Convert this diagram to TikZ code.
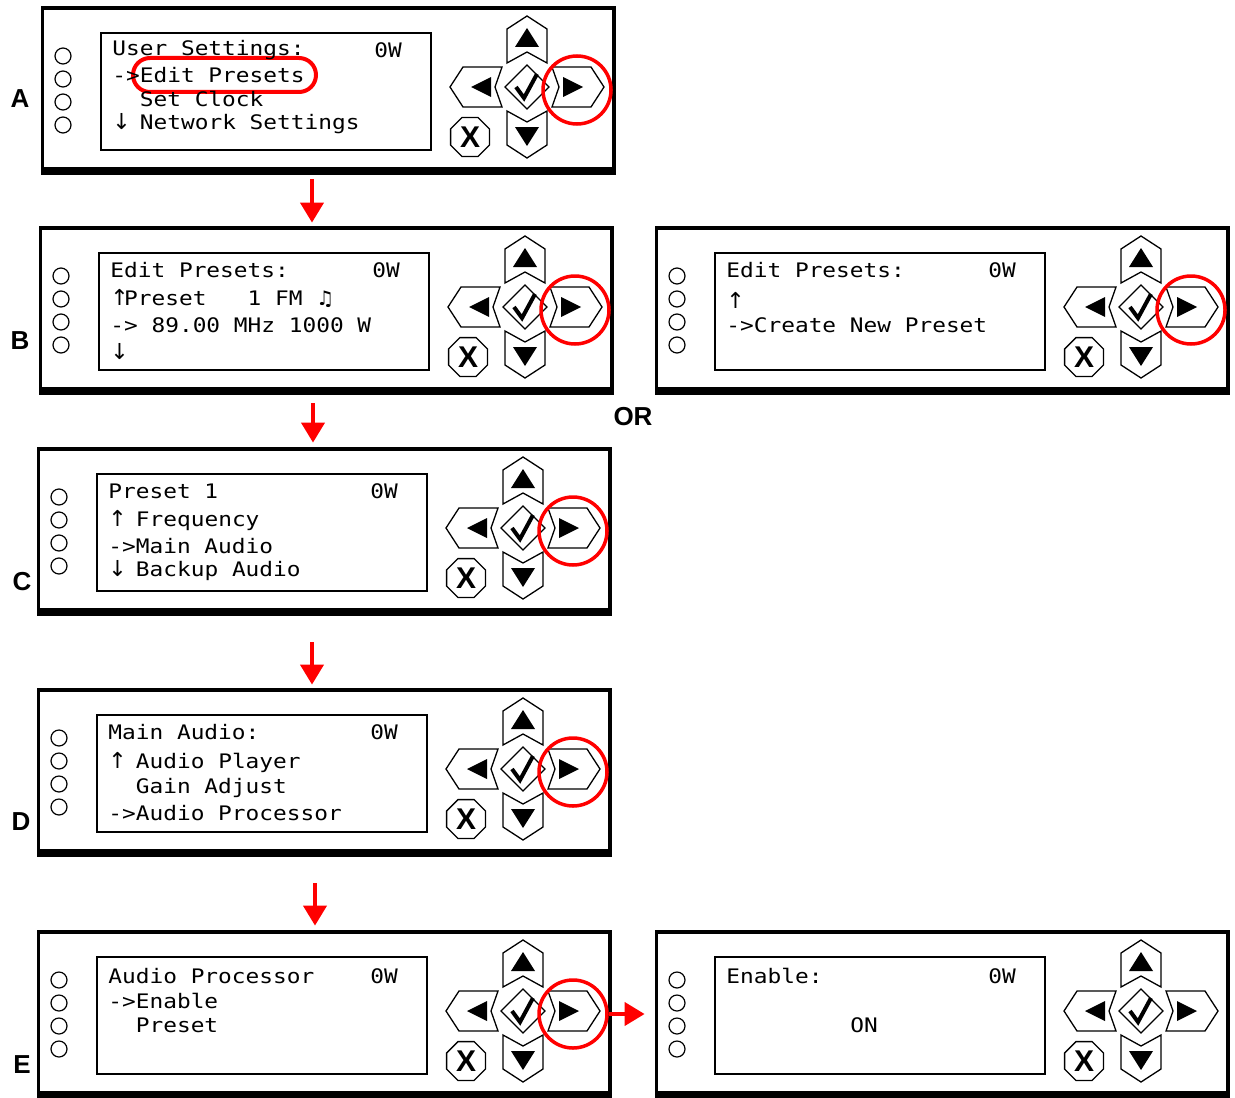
\documentclass[tikz,border=0pt]{standalone}
\usepackage{fontspec}
\setmainfont{Liberation Sans}
\newfontfamily\lcdfont[FakeStretch=1.14]{DejaVu Sans Mono}
\newfontfamily\notefont{DejaVu Sans}
\newcommand{\up}{\makebox[6.9pt][l]{\notefont\fontsize{11}{11}\selectfont ↑}}
\newcommand{\dn}{\makebox[6.9pt][l]{\notefont\fontsize{11}{11}\selectfont ↓}}
\usetikzlibrary{arrows.meta,shapes.geometric}

\tikzset{
  lcd/.style={anchor=west, inner sep=0pt, font=\lcdfont\fontsize{10}{11}\selectfont},
  tag/.style={inner sep=0pt, font=\fontsize{13}{15}\selectfont\bfseries},
  key/.style={draw=black, line width=0.65pt, fill=white},
  xkey/.style={key, regular polygon, regular polygon sides=8, minimum size=21pt,
    inner sep=0pt, font=\fontsize{15}{15}\selectfont\bfseries},
  ring/.style={circle, draw=red, line width=1.75pt, minimum size=34pt, inner sep=0pt},
  flow/.style={draw=red, line width=2pt, -{Triangle[width=11.5pt,length=10pt]}},
}

% frame, lamps and screen of one front panel (coordinates in px, y down)
\newcommand{\lcdpanel}[1]{%
  \fill[black] (0,0) rectangle (575,169);
  \fill[white] (3,4) rectangle (571,161);
  \node[inner sep=0pt, minimum width=287.5pt, minimum height=84.5pt] (#1) at (287.5,84.5) {};
  \foreach \cy in {50,73,96,119}
    \draw[line width=0.6pt] (22,\cy) circle[radius=4pt];
  \draw[line width=1.2pt] (60,27) rectangle (390,144);
}

% arrow keys, check key and X key
\newcommand{\keypad}[1]{%
  \begin{scope}[shift={(486,81)}]
    \draw[key] (0,-71) -- (20,-58) -- (20,-24) -- (0,-35) -- (-20,-24) -- (-20,-58) -- cycle;
    \draw[key] (0,71) -- (20,58) -- (20,24) -- (0,35) -- (-20,24) -- (-20,58) -- cycle;
    \draw[key] (-77,0) -- (-64,-20) -- (-25,-20) -- (-32,0) -- (-25,20) -- (-64,20) -- cycle;
    \draw[key] (77,0) -- (64,-20) -- (25,-20) -- (32,0) -- (25,20) -- (64,20) -- cycle;
    \draw[key] (0,-22) -- (22,0) -- (0,22) -- (-22,0) -- cycle;
    \fill (0,-59) -- (12,-40) -- (-12,-40) -- cycle;
    \fill (0,59) -- (12,40) -- (-12,40) -- cycle;
    \fill (-56,0) -- (-36,-10) -- (-36,10) -- cycle;
    \fill (56,0) -- (36,-10) -- (36,10) -- cycle;
    \draw[line width=2pt] (-11,0) -- (-3,11) -- (10,-13);
    \node[xkey] (#1x) at (-57,50) {X};
  \end{scope}}

\begin{document}
\begin{tikzpicture}[x=0.5pt,y=-0.5pt]
  \useasboundingbox (0,0) rectangle (1235,1097);

  % A
  \begin{scope}[shift={(41,6)}]
    \lcdpanel{pA}
    \keypad{pA}
    \node[ring] (pAr) at (536,84) {};
    \draw[red, line width=2pt, rounded corners=8.5pt] (92,52) rectangle (275,86);
    \node[lcd] (a1) at (71,44) {User Settings:};
    \node[lcd] (a0) at (333,44) {0W};
    \node[lcd] (a2) at (71,69) {->Edit Presets};
    \node[lcd] (a3) at (71,93) {~~Set Clock};
    \node[lcd] (a4) at (71,118) {\dn~Network Settings};
  \end{scope}

  % B
  \begin{scope}[shift={(39,226)}]
    \lcdpanel{pB}
    \keypad{pB}
    \node[ring] (pBr) at (536,84) {};
    \node[lcd] (b1) at (71,44) {Edit Presets:};
    \node[lcd] (b0) at (333,44) {0W};
    \node[lcd] (b2) at (71,72) {\up Preset~~~1 FM {\notefont ♫}};
    \node[lcd] (b3) at (71,99) {->~89.00 MHz 1000 W};
    \node[lcd] (b4) at (71,126) {\dn};
  \end{scope}

  % B, other case
  \begin{scope}[shift={(655,226)}]
    \lcdpanel{pBB}
    \keypad{pBB}
    \node[ring] (pBBr) at (536,84) {};
    \node[lcd] (bb1) at (71,44) {Edit Presets:};
    \node[lcd] (bb0) at (333,44) {0W};
    \node[lcd] (bb2) at (71,74) {\up};
    \node[lcd] (bb3) at (71,99) {->Create New Preset};
  \end{scope}

  % C
  \begin{scope}[shift={(37,447)}]
    \lcdpanel{pC}
    \keypad{pC}
    \node[ring] (pCr) at (536,84) {};
    \node[lcd] (c1) at (71,44) {Preset 1};
    \node[lcd] (c0) at (333,44) {0W};
    \node[lcd] (c2) at (71,74) {\up~Frequency};
    \node[lcd] (c3) at (71,99) {->Main Audio};
    \node[lcd] (c4) at (71,124) {\dn~Backup Audio};
  \end{scope}

  % D
  \begin{scope}[shift={(37,688)}]
    \lcdpanel{pD}
    \keypad{pD}
    \node[ring] (pDr) at (536,84) {};
    \node[lcd] (d1) at (71,44) {Main Audio:};
    \node[lcd] (d0) at (333,44) {0W};
    \node[lcd] (d2) at (71,75) {\up~Audio Player};
    \node[lcd] (d3) at (71,100) {~~Gain Adjust};
    \node[lcd] (d4) at (71,125) {->Audio Processor};
  \end{scope}

  % E
  \begin{scope}[shift={(37,930)}]
    \lcdpanel{pE}
    \keypad{pE}
    \node[ring] (pEr) at (536,84) {};
    \node[lcd] (e1) at (71,46) {Audio Processor};
    \node[lcd] (e0) at (333,46) {0W};
    \node[lcd] (e2) at (71,71) {->Enable};
    \node[lcd] (e3) at (71,95) {~~Preset};
  \end{scope}

  % E, result
  \begin{scope}[shift={(655,930)}]
    \lcdpanel{pEE}
    \keypad{pEE}
    \node[lcd] (ee1) at (71,46) {Enable:};
    \node[lcd] (ee0) at (333,46) {0W};
    \node[lcd, anchor=center] (ee2) at (209,95) {ON};
  \end{scope}

  \node[tag] (labA) at (20,99) {A};
  \node[tag] (labB) at (20,341) {B};
  \node[tag] (labC) at (22,582) {C};
  \node[tag] (labD) at (21,822) {D};
  \node[tag] (labE) at (22,1065) {E};
  \node[tag] (labOr) at (633,417) {OR};

  \coordinate (colAB) at (312,0);
  \coordinate (colBC) at (313,0);
  \coordinate (colCD) at (312,0);
  \coordinate (colDE) at (315,0);
  \draw[flow, shorten <=2pt, shorten >=1.5pt] (pA.south -| colAB) -- (pB.north -| colAB);
  \draw[flow, shorten <=4pt, shorten >=2pt] (pB.south -| colBC) -- (pC.north -| colBC);
  \draw[flow, shorten <=13pt, shorten >=1.5pt] (pC.south -| colCD) -- (pD.north -| colCD);
  \draw[flow, shorten <=13pt, shorten >=2pt] (pD.south -| colDE) -- (pE.north -| colDE);
  \draw[flow, shorten >=5pt] (pEr.east) -- (pEr.east -| pEE.west);
\end{tikzpicture}
\end{document}
